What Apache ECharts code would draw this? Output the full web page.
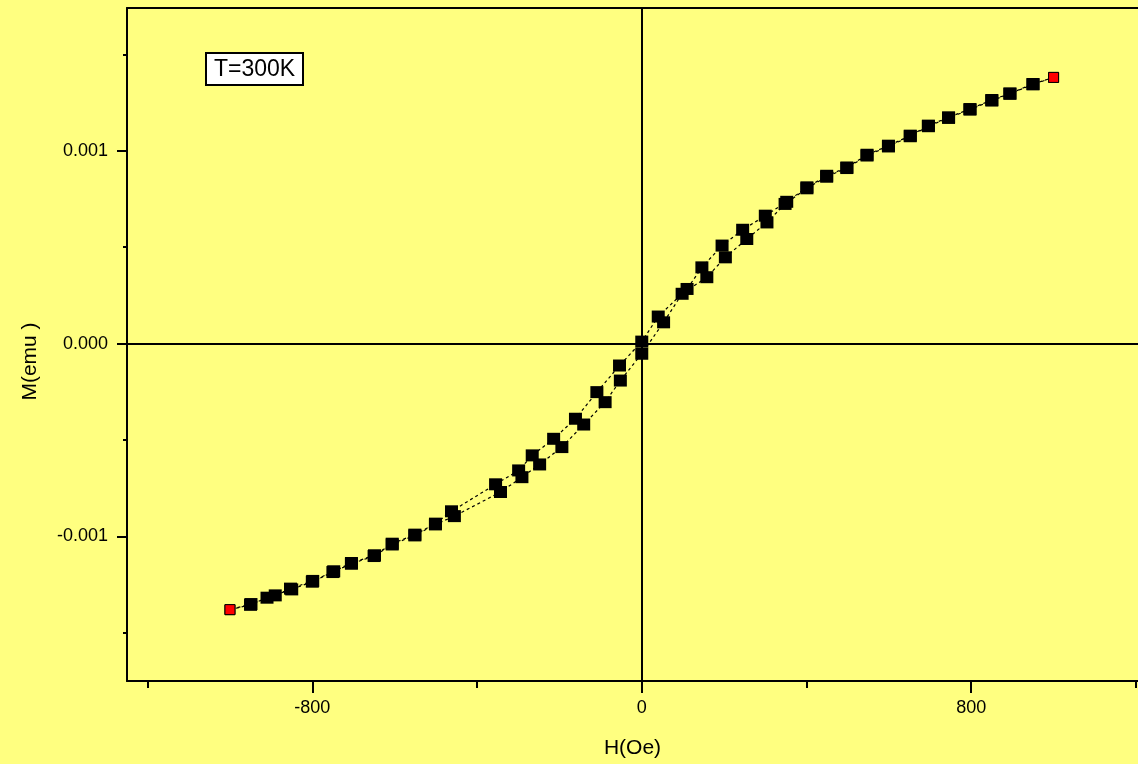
<!DOCTYPE html>
<html>
<head>
<meta charset="utf-8">
<script src="https://cdn.jsdelivr.net/npm/echarts@6/dist/echarts.min.js"></script>
<style>
  html, body { margin: 0; padding: 0; background: #ffff80; }
  #chart { width: 1138px; height: 764px; }
</style>
</head>
<body>
<div id="chart"></div>
<script>
// ---- data ----
// descending branch: H from +1000 to -1000 Oe
const H_desc = [1000, 950, 894, 850, 797, 745, 696, 652, 599, 547, 498, 449, 401, 352, 300, 245, 195, 146, 110, 40, 0, -54, -109, -161, -214, -266, -299, -355, -462, -501, -551, -606, -649, -705, -748, -799, -853, -890, -949, -1000];
const M_desc = [0.00138, 0.001346, 0.001297, 0.001263, 0.001216, 0.001173, 0.00113, 0.001078, 0.001026, 0.000979, 0.000913, 0.00087, 0.00081, 0.000735, 0.000663, 0.00059, 0.000508, 0.000395, 0.000283, 0.00014, 0.00001, -0.000114, -0.000252, -0.00039, -0.000494, -0.00058, -0.000658, -0.00073, -0.00087, -0.000934, -0.000991, -0.001038, -0.001098, -0.001138, -0.001181, -0.001231, -0.001271, -0.001306, -0.001351, -0.00138];
// ascending branch: H from -1000 to +1000 Oe
const H_asc = [-1000, -950, -910, -850, -800, -750, -705, -650, -606, -551, -501, -455, -343, -291, -248, -194, -141, -89, -52, 0, 53, 98, 158, 203, 255, 304, 348, 401, 449, 498, 547, 599, 652, 696, 745, 797, 850, 894, 950, 1000];
const M_asc = [-0.00138, -0.001355, -0.001318, -0.001275, -0.001235, -0.001185, -0.001142, -0.001102, -0.001042, -0.000995, -0.000938, -0.000895, -0.00077, -0.000693, -0.000627, -0.000537, -0.00042, -0.000304, -0.000192, -0.000053, 0.00011, 0.000258, 0.000344, 0.000447, 0.000542, 0.000628, 0.000724, 0.000805, 0.000865, 0.00091, 0.000975, 0.001022, 0.001075, 0.001127, 0.00117, 0.001213, 0.00126, 0.001295, 0.001344, 0.00138];

const X_MAJOR_TICKS = [-800, 0, 800];
const X_MINOR_TICKS = [-1200, -400, 400, 1200];
const Y_MAJOR_TICKS = [-0.001, 0, 0.001];
const Y_MINOR_TICKS = [-0.0015, -0.0005, 0.0005, 0.0015];
const X_NAME = 'H(Oe)';
const Y_NAME = 'M(emu )';
const ANNOTATION = 'T=300K';

// ---- chart ----
const FONT = 'Liberation Sans, Arial, sans-serif';
const chart = echarts.init(document.getElementById('chart'), null, { renderer: 'canvas' });

function pairs(hs, ms) {
  return hs.map((h, i) => {
    const item = { value: [h, ms[i]] };
    if (i === 0 || i === hs.length - 1) {
      item.itemStyle = { color: '#ff0000', borderColor: '#000', borderWidth: 1 };
      item.symbolSize = 10;
    }
    return item;
  });
}

// visible frame is cut by the image edge on the right
const baseX = { type: 'value', min: -1250, max: 1205, splitLine: { show: false } };
const baseY = { type: 'value', min: -0.00175, max: 0.00174, position: 'left', splitLine: { show: false } };

const lineStyle = { color: '#000', width: 1.2, type: [3, 3] };
const axisLineStyle = { color: '#000', width: 2 };

const option = {
  animation: false,
  backgroundColor: '#ffff80',
  grid: { left: 127, right: 0, top: 8, bottom: 83, show: false },
  xAxis: [
    Object.assign({}, baseX, {
      position: 'bottom',
      axisLine: { show: true, onZero: false, lineStyle: axisLineStyle },
      axisTick: { show: true, length: 7, customValues: X_MINOR_TICKS, lineStyle: axisLineStyle },
      axisLabel: { show: false }
    }),
    Object.assign({}, baseX, {
      position: 'bottom',
      axisLine: { show: false, onZero: false },
      axisTick: { show: true, length: 12, customValues: X_MAJOR_TICKS, lineStyle: axisLineStyle },
      axisLabel: { show: true, customValues: X_MAJOR_TICKS, color: '#000', fontSize: 18, fontFamily: FONT, margin: 18 },
      name: X_NAME, nameLocation: 'middle', nameGap: 57,
      nameTextStyle: { color: '#000', fontSize: 21, fontFamily: FONT }
    }),
    Object.assign({}, baseX, {
      position: 'top',
      axisLine: { show: true, onZero: false, lineStyle: axisLineStyle },
      axisTick: { show: false }, axisLabel: { show: false }
    })
  ],
  yAxis: [
    Object.assign({}, baseY, {
      axisLine: { show: true, onZero: false, lineStyle: axisLineStyle },
      axisTick: { show: true, length: 4, customValues: Y_MINOR_TICKS, lineStyle: axisLineStyle },
      axisLabel: { show: false }
    }),
    Object.assign({}, baseY, {
      axisLine: { show: false, onZero: false },
      axisTick: { show: true, length: 10, customValues: Y_MAJOR_TICKS, lineStyle: axisLineStyle },
      axisLabel: {
        show: true, customValues: Y_MAJOR_TICKS, color: '#000', fontSize: 18, fontFamily: FONT, margin: 19,
        formatter: v => v.toFixed(3)
      },
      name: Y_NAME, nameLocation: 'middle', nameGap: 86,
      nameTextStyle: { color: '#000', fontSize: 21, fontFamily: FONT, padding: [0, 34, 0, 0] }
    })
  ],
  series: [
    {
      name: 'descending', type: 'line', xAxisIndex: 0, yAxisIndex: 0,
      data: pairs(H_desc, M_desc),
      symbol: 'rect', symbolSize: [13, 12], showAllSymbol: true,
      itemStyle: { color: '#000' }, lineStyle: lineStyle, z: 3,
      markLine: {
        silent: true, symbol: ['none', 'none'], label: { show: false },
        lineStyle: { color: '#000', width: 2, type: 'solid' },
        emphasis: { disabled: true },
        data: [{ xAxis: 0 }, { yAxis: 0 }]
      }
    },
    {
      name: 'ascending', type: 'line', xAxisIndex: 0, yAxisIndex: 0,
      data: pairs(H_asc, M_asc),
      symbol: 'rect', symbolSize: [13, 12], showAllSymbol: true,
      itemStyle: { color: '#000' }, lineStyle: lineStyle, z: 3
    }
  ],
  graphic: [
    {
      type: 'group', left: 205, top: 52,
      children: [
        { type: 'rect', shape: { x: 0, y: 0, width: 97, height: 32 },
          style: { fill: '#fff', stroke: '#000', lineWidth: 2 } },
        { type: 'text', x: 48.5, y: 17,
          style: { text: ANNOTATION, fill: '#000', font: '23px ' + FONT, align: 'center', verticalAlign: 'middle' } }
      ]
    }
  ]
};

chart.setOption(option);
</script>
</body>
</html>
